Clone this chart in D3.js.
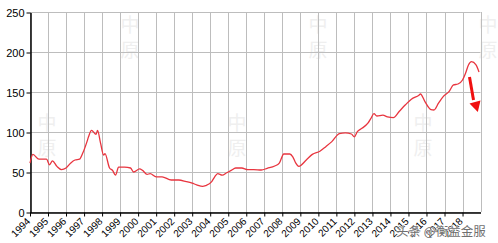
<!DOCTYPE html>
<html>
<head>
<meta charset="utf-8">
<script src="https://cdn.jsdelivr.net/npm/d3@7"></script>
<style>
  body { margin: 0; background: #fff; }
  svg { display: block; }
</style>
</head>
<body>
<div id="chart"></div>
<script>
// monthly readings
var months = ['1994-01', '1994-03', '1994-07', '1994-12', '1995-02', '1995-04', '1995-07', '1995-10',
  '1996-01', '1996-04', '1996-07', '1996-10', '1996-12', '1997-03', '1997-04', '1997-06', '1997-09',
  '1997-10', '1997-12', '1998-02', '1998-03', '1998-06', '1998-08', '1998-10', '1998-12', '1999-04',
  '1999-08', '1999-10', '2000-02', '2000-04', '2000-07', '2000-09', '2001-01', '2001-05', '2001-11',
  '2002-04', '2002-09', '2003-01', '2003-04', '2003-08', '2003-10', '2004-02', '2004-04', '2004-06',
  '2004-09', '2004-12', '2005-03', '2005-06', '2005-10', '2006-02', '2006-06', '2006-11', '2007-03',
  '2007-08', '2007-11', '2008-02', '2008-06', '2008-08', '2008-10', '2008-12', '2009-05', '2009-09',
  '2010-02', '2010-06', '2010-10', '2011-03', '2011-07', '2011-11', '2012-01', '2012-03', '2012-06',
  '2012-10', '2012-12', '2013-02', '2013-04', '2013-08', '2013-11', '2014-03', '2014-07', '2014-11',
  '2015-03', '2015-08', '2015-09', '2015-12', '2016-04', '2016-06', '2016-09', '2016-12', '2017-04',
  '2017-07', '2017-10', '2018-01', '2018-03', '2018-05', '2018-07', '2018-10', '2018-12']
var values = [61, 72, 66, 66, 59, 64, 57, 53,
  55, 61, 65, 66, 73, 88, 94, 102, 97,
  102, 86, 71, 73, 55, 52, 46, 56, 56,
  55, 50, 54, 52, 47, 48, 44, 44, 40,
  40, 38, 36, 34, 32, 33, 38, 44, 48,
  46, 49, 52, 55, 55, 53, 53, 52.5, 54.6,
  57.5, 61, 72.5, 72.5, 69, 61, 57, 65, 72,
  76, 81.7, 88, 98, 99, 97.5, 94, 100.4, 104.6,
  111, 117, 123, 120, 121, 119, 118, 126, 134,
  141, 146, 147.5, 138, 128, 127.5, 136, 144, 150.4,
  158.8, 160, 165, 173, 183.8, 188, 184, 175]
var yTicks = [0, 50, 100, 150, 200, 250]
var tickYears = d3.range(1994, 2019)
var marks = ['中', '原']

var w = 498
var h = 243
var plotLeft = 30
var plotRight = 480.5
var plotTop = 12
var plotBottom = 212

var parse = d3.timeParse('%Y-%m')
var data = months.map(function (m, i) { return { date: parse(m), value: values[i] } })

var x = d3.scaleTime()
  .domain([new Date(1994, 0, 1), new Date(2018, 11, 31)])
  .range([plotLeft, plotRight])
var y = d3.scaleLinear().domain([0, 250]).range([plotBottom, plotTop])

var svg = d3.select('#chart').append('svg')
  .attr('width', w)
  .attr('height', h)
  .style('font-family', '"Liberation Sans", Arial, sans-serif')

// faint logo watermarks
var wm = [[130, 0], [318, 0], [488, 0], [47, 1], [237, 1], [423, 1]]
wm.forEach(function (p) {
  var g = svg.append('g').attr('transform', 'translate(' + p[0] + ',' + (p[1] ? 122 : 24) + ')')
  marks.forEach(function (ch, i) {
    g.append('text').text(ch)
      .attr('y', i * 25 + 8)
      .attr('text-anchor', 'middle')
      .style('font-size', '19px')
      .style('font-family', '"Noto Sans CJK SC", sans-serif')
      .attr('fill', '#efefef')
  })
})

// grid
svg.append('g')
  .selectAll('line')
  .data(yTicks)
  .join('line')
  .attr('x1', plotLeft).attr('x2', plotRight)
  .attr('y1', function (d) { return Math.round(y(d)) + 0.5 })
  .attr('y2', function (d) { return Math.round(y(d)) + 0.5 })
  .attr('stroke', '#bdbdbd')

var gridX = tickYears.map(function (yr) { return new Date(yr, 0, 1) })
svg.append('g')
  .selectAll('line')
  .data(gridX.concat([x.domain()[1]]))
  .join('line')
  .attr('x1', function (d) { return Math.round(x(d)) + 0.5 })
  .attr('x2', function (d) { return Math.round(x(d)) + 0.5 })
  .attr('y1', plotTop).attr('y2', plotBottom)
  .attr('stroke', '#bdbdbd')

// axes
var yAxis = svg.append('g')
  .attr('transform', 'translate(' + (plotLeft + 0.5) + ',0.5)')
  .call(d3.axisLeft(y).tickValues(yTicks).tickSize(4).tickSizeOuter(0).tickPadding(2))
yAxis.select('.domain').attr('stroke', '#000').attr('stroke-width', 1.5)
yAxis.selectAll('text').style('font-size', '11px').attr('fill', '#000')

var xAxis = svg.append('g')
  .attr('transform', 'translate(0,' + (plotBottom + 0.5) + ')')
  .call(d3.axisBottom(x).tickValues(gridX).tickSize(4).tickSizeOuter(0).tickFormat(d3.timeFormat('%Y')))
xAxis.select('.domain').attr('stroke', '#000').attr('stroke-width', 1.5)
xAxis.selectAll('text')
  .style('font-size', '10px')
  .attr('fill', '#000')
  .attr('text-anchor', 'end')
  .attr('x', 0)
  .attr('y', 0)
  .attr('dy', '0.35em')
  .attr('transform', 'translate(-2,7) rotate(-45)')

// series
var line = d3.line()
  .x(function (d) { return x(d.date) })
  .y(function (d) { return y(d.value) })
  .curve(d3.curveMonotoneX)

svg.append('path')
  .datum(data)
  .attr('d', line)
  .attr('fill', 'none')
  .attr('stroke', '#e8353f')
  .attr('stroke-width', 1.3)

// red arrow
svg.append('line')
  .attr('x1', 469.5).attr('y1', 77)
  .attr('x2', 473.5).attr('y2', 100)
  .attr('stroke', '#f01010')
  .attr('stroke-width', 3)
svg.append('path')
  .attr('d', 'M477.8,112L469.5,103.5L480.5,100.5Z')
  .attr('fill', '#f01010')

// watermark
svg.append('text')
  .text('头条 @衡益金服')
  .attr('x', 396)
  .attr('y', 236)
  .style('font-size', '12.5px')
  .style('font-family', '"Noto Sans CJK SC", sans-serif')
  .attr('fill', '#707070')
  .attr('stroke', '#fff')
  .attr('stroke-width', 0.6)
  .attr('paint-order', 'stroke')
</script>
</body>
</html>
